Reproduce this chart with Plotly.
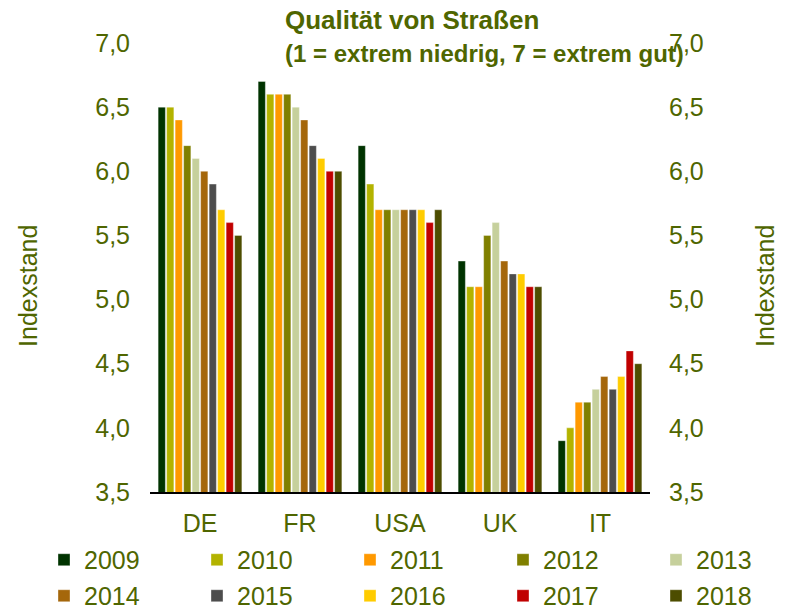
import plotly.graph_objects as go

countries = ["DE", "FR", "USA", "UK", "IT"]
years = ["2009", "2010", "2011", "2012", "2013", "2014", "2015", "2016", "2017", "2018"]
values = {
    "2009": [6.5, 6.7, 6.2, 5.3, 3.9],
    "2010": [6.5, 6.6, 5.9, 5.1, 4.0],
    "2011": [6.4, 6.6, 5.7, 5.1, 4.2],
    "2012": [6.2, 6.6, 5.7, 5.5, 4.2],
    "2013": [6.1, 6.5, 5.7, 5.6, 4.3],
    "2014": [6.0, 6.4, 5.7, 5.3, 4.4],
    "2015": [5.9, 6.2, 5.7, 5.2, 4.3],
    "2016": [5.7, 6.1, 5.7, 5.2, 4.4],
    "2017": [5.6, 6.0, 5.6, 5.1, 4.6],
    "2018": [5.5, 6.0, 5.7, 5.1, 4.5],
}
colors = ["#003300", "#B3B300", "#FF9900", "#808000", "#C6D09C",
          "#A5670B", "#4D4D4D", "#FFCC00", "#C00000", "#4D4D00"]
y_ticks = [3.5, 4.0, 4.5, 5.0, 5.5, 6.0, 6.5, 7.0]

TXT = "#4F6600"
FONT = "Liberation Sans, Arial, sans-serif"

fig = go.Figure()
legend_layout = {}
for i, (yr, c) in enumerate(zip(years, colors)):
    lname = "legend" if i == 0 else f"legend{i + 1}"
    fig.add_trace(go.Bar(
        x=countries, y=values[yr], name=yr, legend=lname,
        marker=dict(color=c, line=dict(color="rgba(255,255,255,0.6)", width=0.6)),
    ))
    col, row = i % 5, i // 5
    legend_layout[lname] = dict(
        orientation="h", xref="paper", yref="paper",
        x=(44 + col * 153 - 150) / 500, xanchor="left",
        y=[-0.1002, -0.1804][row], yanchor="top",
        font=dict(family=FONT, color=TXT, size=25),
        bgcolor="rgba(0,0,0,0)", borderwidth=0,
    )
# invisible trace to carry the right axis
fig.add_trace(go.Scatter(x=countries, y=values["2009"], yaxis="y2", mode="markers",
                         marker=dict(opacity=0), showlegend=False, hoverinfo="skip"))

fig.update_layout(
    width=786, height=610,
    margin=dict(l=150, r=136, t=43, b=118, autoexpand=False),
    paper_bgcolor="white", plot_bgcolor="white",
    separators=",.",
    font=dict(family=FONT, color=TXT, size=25),
    barmode="group", bargap=0.15, bargroupgap=0.15,
    showlegend=True,
    xaxis=dict(showline=True, linecolor="black", linewidth=2,
               ticks="outside", ticklen=8, tickcolor="rgba(0,0,0,0)",
               tickfont=dict(size=25, color=TXT), showgrid=False),
    yaxis=dict(range=[3.5, 7.0], tickvals=y_ticks, tickformat=".1f",
               showgrid=False, zeroline=False, showline=False,
               ticks="outside", ticklen=14, tickcolor="rgba(0,0,0,0)",
               tickfont=dict(size=25, color=TXT)),
    yaxis2=dict(range=[3.5, 7.0], tickvals=y_ticks, tickformat=".1f",
                overlaying="y", side="right",
                showgrid=False, zeroline=False, showline=False,
                ticks="outside", ticklen=13, tickcolor="rgba(0,0,0,0)",
                tickfont=dict(size=25, color=TXT)),
    annotations=[
        dict(text="<b>Qualität von Straßen</b>", xref="paper", yref="paper",
             x=0.266, y=1.0, xanchor="left", yanchor="middle", yshift=23, showarrow=False,
             font=dict(size=26, color=TXT, family=FONT)),
        dict(text="<b>(1 = extrem niedrig, 7 = extrem gut)</b>", xref="paper", yref="paper",
             x=0.266, y=1.0, xanchor="left", yanchor="middle", yshift=-10, showarrow=False,
             font=dict(size=24, color=TXT, family=FONT)),
        dict(text="Indexstand", xref="paper", yref="paper", x=-0.244, y=0.459,
             xanchor="center", yanchor="middle", textangle=-90, showarrow=False,
             font=dict(size=25, color=TXT, family=FONT)),
        dict(text="Indexstand", xref="paper", yref="paper", x=1.23, y=0.459,
             xanchor="center", yanchor="middle", textangle=-90, showarrow=False,
             font=dict(size=25, color=TXT, family=FONT)),
    ],
    **legend_layout,
)

fig.write_html("out.html", config={"displayModeBar": False},
               post_script="document.body.style.margin='0';document.body.style.padding='0';")
